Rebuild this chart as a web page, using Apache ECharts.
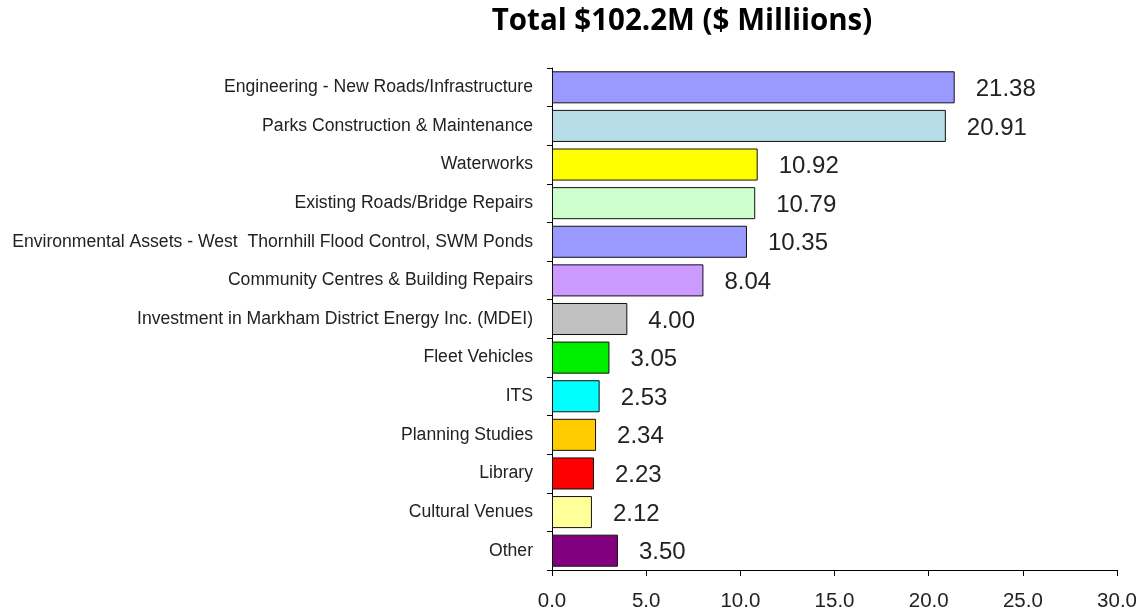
<!DOCTYPE html>
<html>
<head>
<meta charset="utf-8">
<script src="https://cdn.jsdelivr.net/npm/echarts@6/dist/echarts.min.js"></script>
<style>
  html, body { margin: 0; padding: 0; background: #fff; }
  #chart { width: 1140px; height: 613px; }
</style>
</head>
<body>
<div id="chart"></div>
<script>
// Capital budget by program area, top to bottom as listed
const categories = [
  'Engineering - New Roads/Infrastructure',
  'Parks Construction & Maintenance',
  'Waterworks',
  'Existing Roads/Bridge Repairs',
  'Environmental Assets - West  Thornhill Flood Control, SWM Ponds',
  'Community Centres & Building Repairs',
  'Investment in Markham District Energy Inc. (MDEI)',
  'Fleet Vehicles',
  'ITS',
  'Planning Studies',
  'Library',
  'Cultural Venues',
  'Other'
];
const values = [21.38, 20.91, 10.92, 10.79, 10.35, 8.04, 4.00, 3.05, 2.53, 2.34, 2.23, 2.12, 3.50];
const barColors = [
  '#9999ff', '#b7dde8', '#ffff00', '#ccffcc', '#9999ff', '#cc99ff',
  '#c0c0c0', '#00ee00', '#00ffff', '#ffcc00', '#ff0000', '#ffff99', '#800080'
];
const xTicks = [0, 5, 10, 15, 20, 25, 30];

const chart = echarts.init(document.getElementById('chart'));

// category axis runs bottom-up, so reverse for top-down order
const cats = categories.slice().reverse();
const data = values.map((v, i) => ({
  value: v,
  itemStyle: { color: barColors[i] }
})).reverse();

chart.setOption({
  animation: false,
  title: {
    text: 'Total $102.2M ($ Milliions)',
    left: 677,
    top: 2,
    textAlign: 'center',
    textStyle: { fontFamily: 'Open Sans', fontWeight: 'bold', fontSize: 29.5, color: '#000' }
  },
  grid: { left: 552, right: 22, top: 68, bottom: 43, containLabel: false },
  xAxis: {
    type: 'value',
    min: xTicks[0],
    max: xTicks[xTicks.length - 1],
    interval: 5,
    splitLine: { show: false },
    axisLine: { show: true, lineStyle: { color: '#000', width: 1 } },
    axisTick: { show: true, length: 6, lineStyle: { color: '#000' } },
    axisLabel: {
      margin: 21,
      fontFamily: 'Liberation Sans',
      fontSize: 20.5,
      color: '#222',
      formatter: v => v.toFixed(1)
    }
  },
  yAxis: {
    type: 'category',
    data: cats,
    axisLine: { show: true, lineStyle: { color: '#000', width: 1 } },
    axisTick: { show: true, length: 5, lineStyle: { color: '#000' } },
    axisLabel: {
      margin: 19,
      fontFamily: 'Liberation Sans',
      fontSize: 17.6,
      color: '#222'
    }
  },
  series: [{
    type: 'bar',
    data: data,
    barCategoryGap: '17%',
    itemStyle: { borderColor: '#111', borderWidth: 1 },
    label: {
      show: true,
      position: 'right',
      distance: 21,
      offset: [0, 2],
      fontFamily: 'Liberation Sans',
      fontSize: 24,
      color: '#222',
      formatter: p => p.value.toFixed(2)
    }
  }]
});
</script>
</body>
</html>
